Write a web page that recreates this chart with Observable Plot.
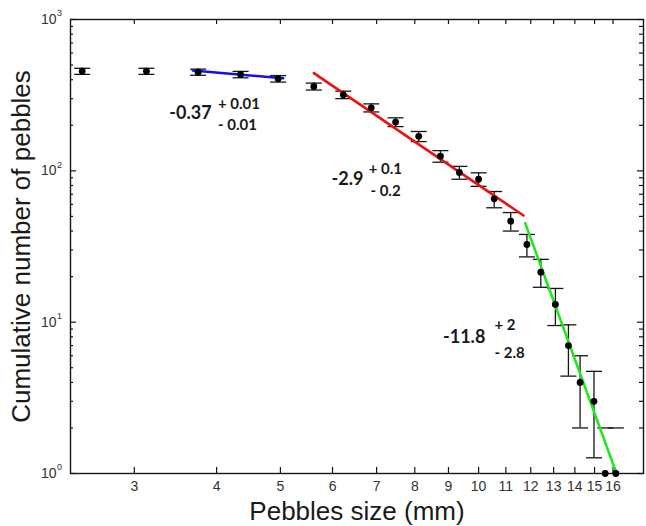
<!DOCTYPE html>
<html>
<head>
<meta charset="utf-8">
<script src="https://cdn.jsdelivr.net/npm/d3@7"></script>
<script src="https://cdn.jsdelivr.net/npm/@observablehq/plot@0.6"></script>
<style>
  html, body { margin: 0; padding: 0; background: #fff; }
</style>
</head>
<body>
<div id="chart"></div>
<script>
// ---- data ----
const sizes  = [2.50, 3.13, 3.75, 4.35, 4.96, 5.62, 6.23, 6.87, 7.48, 8.11, 8.75, 9.35, 10.0, 10.56, 11.19, 11.84, 12.43, 13.08, 13.69, 14.26, 14.97, 15.57, 16.16];
const counts = [455, 455, 449, 433, 406, 361, 318, 261, 210, 169, 125, 97.5, 88, 65.3, 46.5, 32.6, 21.4, 13.1, 7, 4, 3, 1, 1];
const errLow = [434, 434, 428, 412, 386, 342, 300, 245, 196, 156, 114, 88, 79, 57, 40, 27, 17, 9.5, 4.4, 2, 1.27, null, null];
const errHigh= [476, 476, 470, 454, 426, 380, 336, 277, 224, 182, 136, 107, 97, 73, 53, 38, 26, 16.7, 9.6, 6, 4.73, 2, 2];

const fitBlueX  = [3.68, 5.05],  fitBlueY  = [460, 409];
const fitRedX   = [5.62, 11.70], fitRedY   = [442, 50.7];
const fitGreenX = [11.77, 16.2], fitGreenY = [45.1, 1];

const slopeText = ["-0.37", "-2.9", "-11.8"];
const slopeX    = [3.39, 5.98, 8.83];
const slopeY    = [221, 80, 7.23];
const errText   = ["+ 0.01", "- 0.01", "+ 0.1", "- 0.2", "+ 2", "- 2.8"];
const errX      = [4.02, 4.02, 6.81, 6.85, 10.57, 10.57];
const errY      = [257, 185, 94.6, 68.7, 8.81, 5.84];

const xTicks      = [3, 4, 5, 6, 7, 8, 9, 10, 11, 12, 13, 14, 15, 16];
const xTickLabels = ["3", "4", "5", "6", "7", "8", "9", "10", "11", "12", "13", "14", "15", "16"];
const yTicks      = [1, 10, 100, 1000];
const yTickExp    = ["0", "1", "2", "3"];
const yMinor      = [2, 3, 4, 5, 6, 7, 8, 9, 20, 30, 40, 50, 60, 70, 80, 90, 200, 300, 400, 500, 600, 700, 800, 900];

const xLabel = "Pebbles size (mm)";
const yLabel = "Cumulative number of pebbles";

// ---- layout ----
const W = 646, H = 526, ML = 70, MR = 3, MT = 19, MB = 53;
const FW = W - ML - MR, FH = H - MT - MB;

const pts = sizes.map((s, i) => ({x: s, y: counts[i], lo: errLow[i], hi: errHigh[i]}));
const line = (xs, ys) => xs.map((x, i) => ({x, y: ys[i]}));
const capSymbol = {draw(ctx) { ctx.moveTo(-8, 0); ctx.lineTo(8, 0); }};
const annFont = "Lato, 'Open Sans', sans-serif";
const ink = "#151515";

const chart = Plot.plot({
  width: W, height: H,
  marginLeft: ML, marginRight: MR, marginTop: MT, marginBottom: MB,
  style: {fontFamily: "'Liberation Sans', Arial, sans-serif", background: "#fff"},
  x: {type: "log", domain: [2.4, 17.8], axis: null},
  y: {type: "log", domain: [1, 1000], axis: null},
  marks: [
    // ticks (inward)
    Plot.tickX(xTicks, {x: d => d, insetTop: FH - 6, stroke: ink, strokeWidth: 1.2}),
    Plot.tickX(xTicks, {x: d => d, insetBottom: FH - 5, stroke: ink, strokeWidth: 1.2}),
    Plot.tickY(yTicks, {y: d => d, insetRight: FW - 6, stroke: ink, strokeWidth: 1.2}),
    Plot.tickY(yMinor, {y: d => d, insetRight: FW - 3, stroke: ink, strokeWidth: 1.2}),
    Plot.tickY(yTicks, {y: d => d, insetLeft: FW - 6, stroke: ink, strokeWidth: 1.2}),
    Plot.tickY(yMinor, {y: d => d, insetLeft: FW - 4, stroke: ink, strokeWidth: 1.2}),
    Plot.frame({stroke: ink, strokeWidth: 1.4}),
    // tick labels
    Plot.text(xTicks, {x: d => d, text: (d, i) => xTickLabels[i], frameAnchor: "bottom", textAnchor: "middle", lineAnchor: "top", dy: 8, fontSize: 14, fill: "#333"}),
    Plot.text(yTicks, {y: d => d, text: () => "10", frameAnchor: "left", textAnchor: "end", dx: -14, fontSize: 14, fill: "#333"}),
    Plot.text(yTicks, {y: d => d, text: (d, i) => yTickExp[i], frameAnchor: "left", textAnchor: "start", dx: -13.5, dy: -6, fontSize: 9, fill: "#333"}),
    // axis labels
    Plot.text([xLabel], {text: d => d, frameAnchor: "bottom", textAnchor: "middle", lineAnchor: "bottom", dy: 46, fontSize: 26, fill: "#1a1a1a"}),
    Plot.text([yLabel], {text: d => d, frameAnchor: "left", textAnchor: "middle", lineAnchor: "middle", rotate: -90, dx: -49, fontSize: 26, fill: "#1a1a1a"}),
    // error bars
    Plot.ruleX(pts.filter(d => d.lo != null), {x: "x", y1: "lo", y2: "hi", stroke: ink, strokeWidth: 1.3}),
    Plot.dot(pts, {x: "x", y: "hi", symbol: capSymbol, stroke: ink, strokeWidth: 1.3, fill: "none"}),
    Plot.dot(pts.filter(d => d.lo != null), {x: "x", y: "lo", symbol: capSymbol, stroke: ink, strokeWidth: 1.3, fill: "none"}),
    // fits
    Plot.line(line(fitBlueX, fitBlueY), {x: "x", y: "y", stroke: "#1010ee", strokeWidth: 2.6, clip: true}),
    Plot.line(line(fitRedX, fitRedY), {x: "x", y: "y", stroke: "#ee1111", strokeWidth: 2.6, clip: true}),
    Plot.line(line(fitGreenX, fitGreenY), {x: "x", y: "y", stroke: "#22e622", strokeWidth: 2.6, clip: true}),
    // data points
    Plot.dot(pts, {x: "x", y: "y", r: 3.4, fill: "#000", stroke: "none"}),
    // annotations
    Plot.text(slopeText, {x: (d, i) => slopeX[i], y: (d, i) => slopeY[i], text: d => d, textAnchor: "start", lineAnchor: "bottom", fontSize: 18, fontWeight: "bold", fontFamily: annFont, fill: "#1a1a1a"}),
    Plot.text(errText, {x: (d, i) => errX[i], y: (d, i) => errY[i], text: d => d, textAnchor: "start", lineAnchor: "bottom", fontSize: 15, fontWeight: "bold", fontFamily: annFont, fill: "#1a1a1a"})
  ]
});
document.getElementById("chart").append(chart);
</script>
</body>
</html>
